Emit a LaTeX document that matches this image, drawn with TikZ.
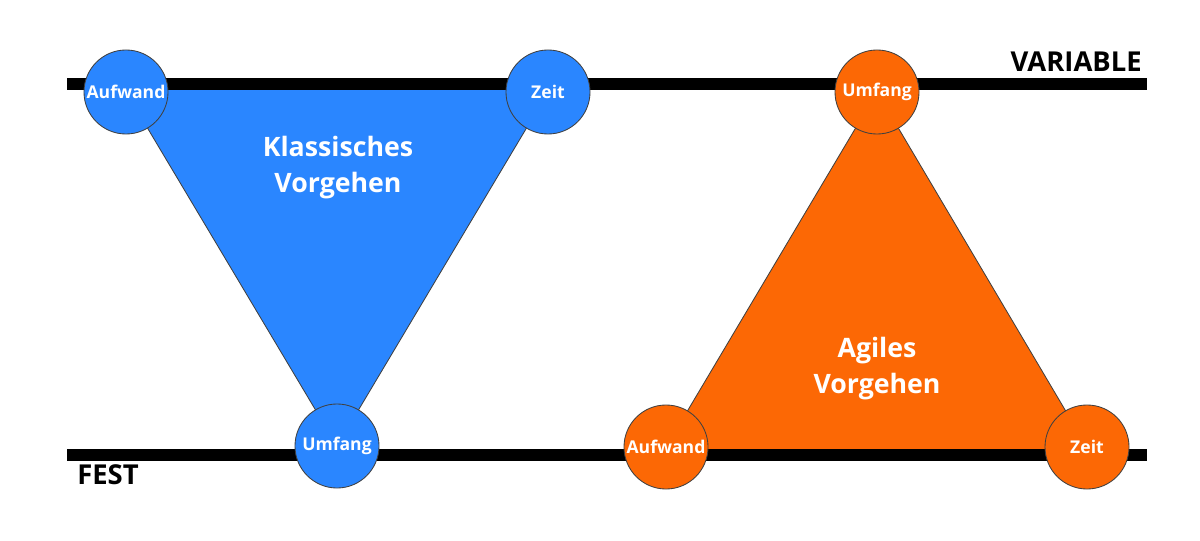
\documentclass[tikz,border=0pt]{standalone}
\usepackage{fontspec}
\setsansfont{Open Sans}
\definecolor{klassblau}{RGB}{42,134,255}
\definecolor{agilorange}{RGB}{252,104,5}
\begin{document}
\begin{tikzpicture}[x=0.025cm, y=0.025cm,
    ecke/.style={circle, draw=black!75, line width=0.6pt, minimum size=2.1cm,
      inner sep=0pt, text=white, font=\sffamily\bfseries\fontsize{12.5}{15}\selectfont},
    kante/.style={draw=black!75, line width=0.6pt},
    balken/.style={line width=8.6pt},
    titel/.style={text=white, align=center, inner sep=0pt,
      font=\sffamily\bfseries\fontsize{19}{25.6}\selectfont},
    achse/.style={inner sep=0pt, font=\sffamily\bfseries\fontsize{19.5}{23}\selectfont}]
  \useasboundingbox (0,0) rectangle (1200,540);
  % Achsen
  \coordinate (oben-l) at (67,456);
  \coordinate (oben-r) at (1147,456);
  \coordinate (unten-l) at (67,85);
  \coordinate (unten-r) at (1147,85);
  % Ecken
  \coordinate (ka) at (126,448);
  \coordinate (kz) at (548,448);
  \coordinate (ku) at (337,94);
  \coordinate (au) at (877,448);
  \coordinate (aa) at (666,93);
  \coordinate (az) at (1087,93);
  \fill[klassblau] (ka) -- (ka |- oben-l) -- (kz |- oben-l) -- (kz) -- (ku) -- cycle;
  \fill[agilorange] (au) -- (aa) -- (aa |- unten-l) -- (az |- unten-l) -- (az) -- cycle;
  \draw[kante] (ka) -- (ku) -- (kz);
  \draw[kante] (aa) -- (au) -- (az);
  \draw[balken] (oben-l) -- (oben-r);
  \draw[balken] (unten-l) -- (unten-r);
  \node[achse, anchor=base east] (variabel) at (1142,468) {VARIABLE};
  \node[achse, anchor=base west] (fest) at (77,56) {FEST};
  % Kreise
  \node[ecke, fill=klassblau] (k-aufwand) at (ka) {Aufwand};
  \node[ecke, fill=klassblau] (k-zeit) at (kz) {Zeit};
  \node[ecke, fill=klassblau] (k-umfang) at (ku) {Umfang};
  \node[ecke, fill=agilorange] (a-umfang) at (au) {Umfang};
  \node[ecke, fill=agilorange] (a-aufwand) at (aa) {Aufwand};
  \node[ecke, fill=agilorange] (a-zeit) at (az) {Zeit};
  \node[titel] (klassisch) at (338,372) {Klassisches\\Vorgehen};
  \node[titel] (agil) at (877,171) {Agiles\\Vorgehen};
\end{tikzpicture}
\end{document}
